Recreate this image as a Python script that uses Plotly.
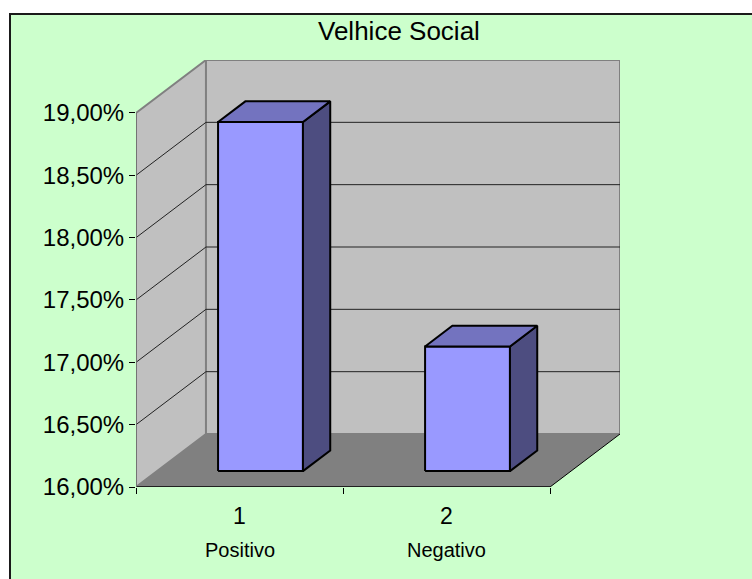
import plotly.graph_objects as go

# ---- data ----
categories = ["Positivo", "Negativo"]
category_numbers = ["1", "2"]
values = [18.80, 17.00]          # percent
y_ticks = [16.0, 16.5, 17.0, 17.5, 18.0, 18.5, 19.0]
title_text = "Velhice Social"

# ---- layout / style constants ----
W, H = 752, 579
L = 136
T = 60
R = W - 620
B = H - 487
Y_MIN, Y_MAX = 16.0, 19.0
DX = 0.338        # depth offset (category units)
DY = 0.425        # depth offset (value units)
XA, XB = 0.5, len(categories) + 0.5
BAR_W = 0.41
F0, F1 = 0.30, 0.69
FONT = "Liberation Sans, Arial, sans-serif"

WALL = "#C0C0C0"
WALL_EDGE = "#808080"
FLOOR = "#808080"
FRONT = "#9999FF"
TOP = "#7373BF"
SIDE = "#4D4D80"
BG = "#CCFFCC"

PW, PH = W - L - R, H - T - B


def px_x(px):
    return (px - L) / PW


def px_y(py):
    return (H - B - py) / PH


def fmt(v):
    return f"{v:.2f}%".replace(".", ",")


fig = go.Figure()
shapes = []

# outer chart-area frame
shapes.append(dict(type="rect", xref="paper", yref="paper",
                   x0=px_x(10), x1=px_x(800), y0=px_y(600), y1=px_y(14),
                   fillcolor=BG, line=dict(color="#1a1a1a", width=2), layer="below"))

# side wall
shapes.append(dict(type="path", xref="x", yref="y", layer="below",
                   path=f"M {XA},{Y_MIN} L {XA},{Y_MAX} L {XA+DX},{Y_MAX+DY} L {XA+DX},{Y_MIN+DY} Z",
                   fillcolor=WALL, line=dict(color=WALL_EDGE, width=2)))
# back wall
shapes.append(dict(type="rect", xref="x", yref="y", layer="below",
                   x0=XA + DX, x1=XB + DX, y0=Y_MIN + DY, y1=Y_MAX + DY,
                   fillcolor=WALL, line=dict(color=WALL_EDGE, width=2)))
# floor
shapes.append(dict(type="path", xref="x", yref="y", layer="below",
                   path=f"M {XA},{Y_MIN} L {XB},{Y_MIN} L {XB+DX},{Y_MIN+DY} L {XA+DX},{Y_MIN+DY} Z",
                   fillcolor=FLOOR, line=dict(width=0)))
# floor front and right edges
shapes.append(dict(type="line", xref="x", yref="y", layer="below",
                   x0=XA, x1=XB, y0=Y_MIN, y1=Y_MIN, line=dict(color="black", width=1.5)))
shapes.append(dict(type="line", xref="x", yref="y", layer="below",
                   x0=XB, x1=XB + DX, y0=Y_MIN, y1=Y_MIN + DY, line=dict(color="black", width=1)))
# gridlines
for t in y_ticks[1:-1]:
    shapes.append(dict(type="line", xref="x", yref="y", layer="below",
                       x0=XA + DX, x1=XB + DX, y0=t + DY, y1=t + DY,
                       line=dict(color="#222222", width=1)))
    shapes.append(dict(type="line", xref="x", yref="y", layer="below",
                       x0=XA, x1=XA + DX, y0=t, y1=t + DY,
                       line=dict(color="#222222", width=1)))
# front vertical edge of side wall
shapes.append(dict(type="line", xref="x", yref="y", layer="below",
                   x0=XA, x1=XA, y0=Y_MIN, y1=Y_MAX, line=dict(color="#6f6f6f", width=1.5)))

# bars
ddx = (F1 - F0) * DX
ddy = (F1 - F0) * DY
for i, v in enumerate(values):
    c = i + 1
    x0 = c - BAR_W / 2 + F0 * DX
    x1 = c + BAR_W / 2 + F0 * DX
    b0 = Y_MIN + F0 * DY
    t0 = v + F0 * DY
    faces = [
        ([x0, x1, x1, x0, x0], [b0, b0, t0, t0, b0], FRONT),
        ([x1, x1 + ddx, x1 + ddx, x1, x1], [b0, b0 + ddy, t0 + ddy, t0, b0], SIDE),
        ([x0, x1, x1 + ddx, x0 + ddx, x0], [t0, t0, t0 + ddy, t0 + ddy, t0], TOP),
    ]
    for xs, ys, col in faces:
        fig.add_trace(go.Scatter(x=xs, y=ys, mode="lines", fill="toself",
                                 fillcolor=col, line=dict(color="black", width=2),
                                 showlegend=False, hoverinfo="text",
                                 text=f"{categories[i]}: {fmt(v)}"))

annotations = [
    dict(text=title_text, xref="paper", yref="paper", x=px_x(398.5), y=px_y(31),
         xanchor="center", yanchor="middle", showarrow=False,
         font=dict(family=FONT, size=26, color="black")),
]
for i, (num, cat) in enumerate(zip(category_numbers, categories)):
    c = i + 1
    annotations.append(dict(text=num, xref="x", yref="paper", x=c, y=px_y(516),
                            xanchor="center", yanchor="middle", showarrow=False,
                            font=dict(family=FONT, size=23, color="black")))
    annotations.append(dict(text=cat, xref="x", yref="paper", x=c, y=px_y(550),
                            xanchor="center", yanchor="middle", showarrow=False,
                            font=dict(family=FONT, size=20, color="black")))

fig.update_layout(
    width=W, height=H,
    margin=dict(l=L, r=R, t=T, b=B, pad=0),
    paper_bgcolor="white", plot_bgcolor="rgba(0,0,0,0)",
    shapes=shapes, annotations=annotations,
    xaxis=dict(range=[XA, XB + DX], tickvals=[XA + k for k in range(len(categories) + 1)],
               ticks="outside", ticklen=6, tickcolor="black", tickwidth=1,
               showticklabels=False, showgrid=False, zeroline=False, showline=False,
               fixedrange=True, automargin=False),
    yaxis=dict(range=[Y_MIN, Y_MAX + DY], tickvals=y_ticks, ticktext=[fmt(t) for t in y_ticks],
               ticks="outside", ticklen=6, tickcolor="black", tickwidth=1,
               tickfont=dict(family=FONT, size=24, color="black"),
               showgrid=False, zeroline=False, showline=False,
               fixedrange=True, automargin=False),
    hovermode="closest",
)

fig.write_html(
    "out.html",
    config={"displayModeBar": False},
    post_script="document.body.style.margin='0';document.body.style.overflow='hidden';",
)
